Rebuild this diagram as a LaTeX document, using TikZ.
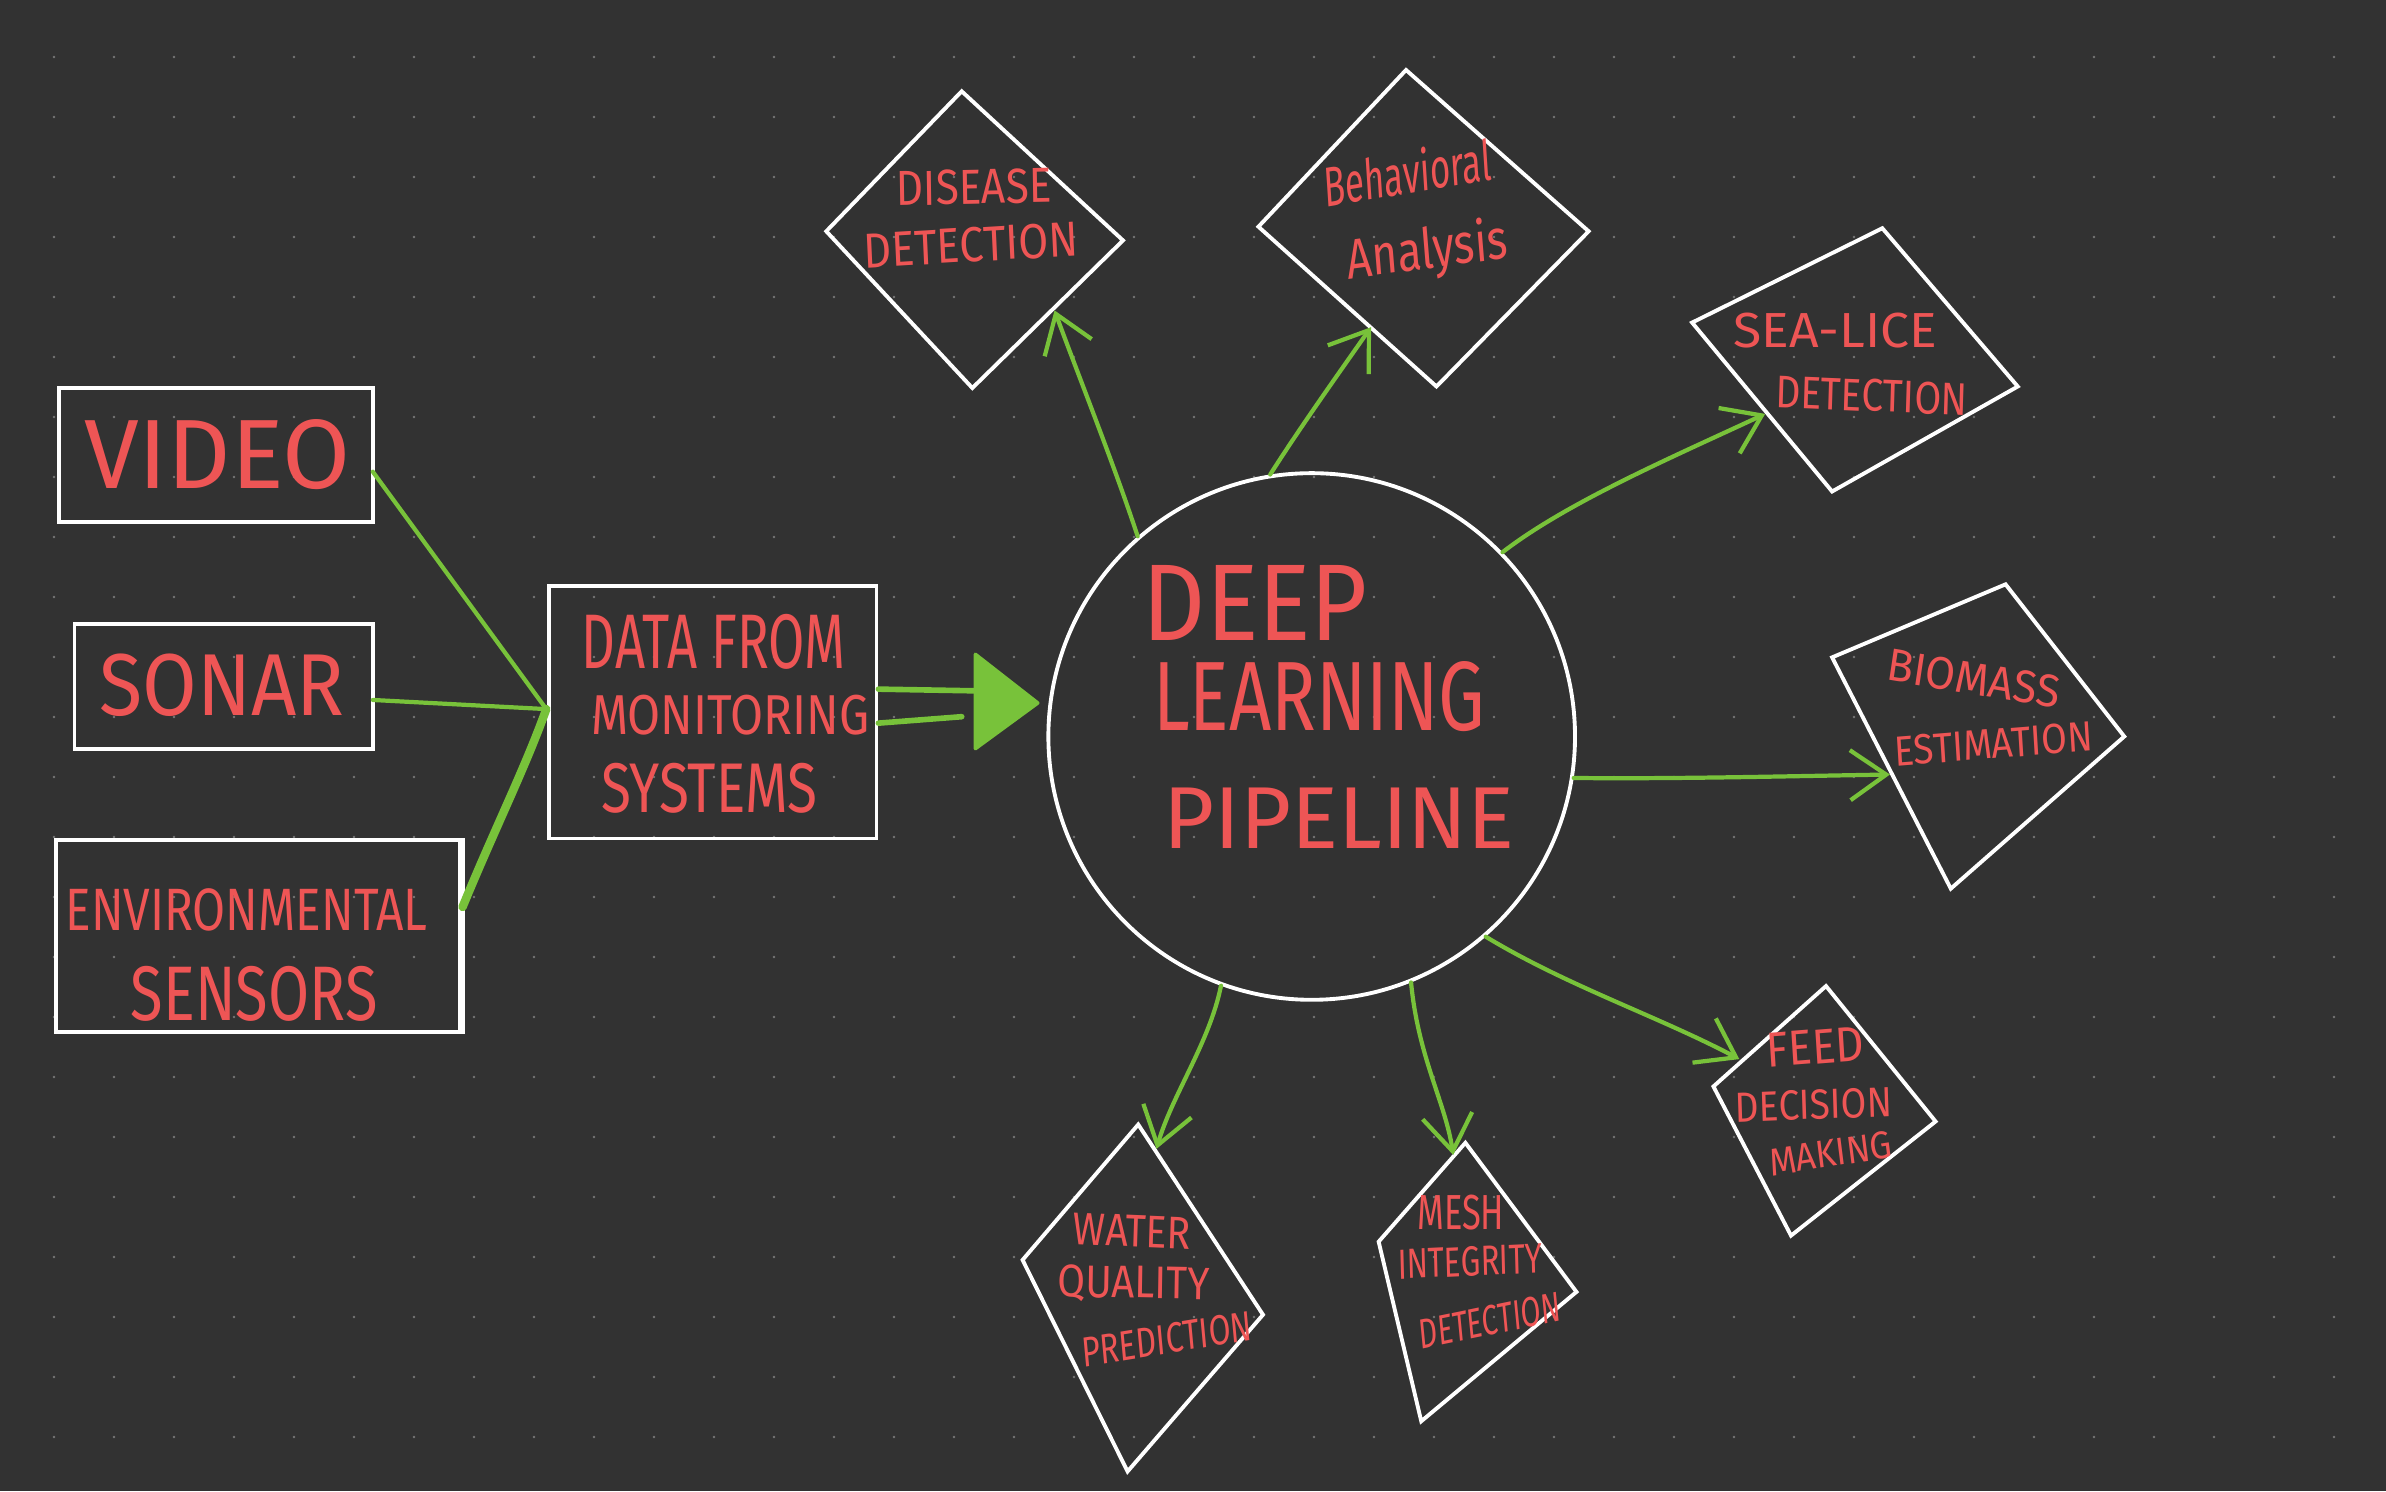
\documentclass[tikz,border=0pt]{standalone}
\usepackage{fontspec}
\setmainfont{Fira Sans}
\usetikzlibrary{arrows.meta,fit}
\definecolor{bg}{HTML}{323232}
\definecolor{dotc}{HTML}{767676}
\definecolor{hred}{HTML}{EE5555}
\definecolor{hgreen}{HTML}{78C23A}
\newcommand\fs[1]{\fontsize{#1}{#1}\selectfont}
\tikzset{
  box/.style={draw=white, line width=1.1pt, inner sep=0pt},
  dia/.style={draw=white, line width=1.1pt, line join=miter},
  gline/.style={draw=hgreen, line width=1.2pt, line cap=round, line join=round},
  garrow/.style={gline, -{Straight Barb[length=3.6mm,width=5mm]}},
  hw/.style={text=hred, inner sep=0pt, transform shape},
}
\begin{document}
\begin{tikzpicture}[x=0.015217cm, y=-0.015217cm]
% background and dot grid
\fill[bg] (0,0) rectangle (1568,980);
\useasboundingbox (0,0) rectangle (1568,980);
\foreach \i in {0,...,38}
  \foreach \j in {0,...,23}
    \fill[dotc] (35.49+39.43*\i, 37.46+39.43*\j) circle[radius=0.013cm];

% source boxes
\node[box, fit={(39,255) (245,343)}] (video) {};
\node[box, fit={(49,410) (245,492)}] (sonar) {};
\node[box, fit={(37,552) (302,678)}] (env) {};
\draw[white, line width=2.2pt] (env.north east) -- (env.south east);
\node[box, fit={(361,385) (576,551)}] (data) {};

\node[hw, font=\fs{28}] (tvideo) at (143,299) {VIDEO};
\node[hw, font=\fs{25}, xscale=0.9] (tsonar) at (146,450) {SONAR};
\node[hw, font=\fs{17}, xscale=0.8] (tenv1) at (162,598) {ENVIRONMENTAL};
\node[hw, font=\fs{22}, xscale=0.77] (tenv2) at (167,653) {SENSORS};
\node[hw, font=\fs{22}, xscale=0.68] (tdata1) at (469,422) {DATA FROM};
\node[hw, font=\fs{16}, xscale=0.85] (tdata2) at (480,470) {MONITORING};
\node[hw, font=\fs{20}, xscale=0.78] (tdata3) at (466,518) {SYSTEMS};

% junction connectors
\coordinate (vout) at (245,310);
\coordinate (sout) at (245,460);
\coordinate (eout) at (304,596);
\coordinate (junc) at (359,466);
\draw[gline] (vout) -- (junc);
\draw[gline] (sout) -- (junc);
\draw[gline, line width=2.4pt] (eout) .. controls (325,545) and (345,505) .. (junc);

% central circle
\node[circle, draw=white, line width=1.1pt, minimum size=5.265cm, inner sep=0pt] (dlp) at (862,484) {};
\node[hw, font=\fs{31}, xscale=0.9] (tdeep) at (825,396) {DEEP};
\node[hw, font=\fs{28}, xscale=0.75] (tlearn) at (867,458) {LEARNING};
\node[hw, font=\fs{25}] (tpipe) at (880,538) {PIPELINE};

% big arrow data -> circle
\coordinate (bigtip) at (682,462);
\draw[gline, line width=1.6pt] ([yshift=0.23cm]data.east) -- (641,454);
\draw[gline, line width=1.6pt] ([yshift=-0.11cm]data.east) -- (632,471);
\fill[hgreen, draw=hgreen, line width=1pt, line join=round] (bigtip) -- ++(-41,-32) -- ++(0,62) -- cycle;

% diamonds
\draw[dia] (632,60) -- (738,158) -- (639,255) -- (543,152) -- cycle;
\coordinate (dis) at (693,204);
\node[hw, font=\fs{14}, xscale=0.86, rotate=1] (tdis1) at (640,123) {DISEASE};
\node[hw, font=\fs{14}, xscale=0.88, rotate=3] (tdis2) at (638,161) {DETECTION};

\draw[dia] (924,46) -- (1044,152) -- (944,254) -- (827,149) -- cycle;
\coordinate (beh) at (901,215);
\node[hw, font=\fs{16}, xscale=0.62, rotate=6] (tbeh1) at (925,113) {Behavioral};
\node[hw, font=\fs{16}, xscale=0.78, rotate=6] (tbeh2) at (938,166) {Analysis};

\draw[dia] (1237,150) -- (1326,254) -- (1204,323) -- (1112,212) -- cycle;
\coordinate (sea) at (1160,272);
\node[hw, font=\fs{14}, xscale=1.05] (tsea1) at (1206,217) {SEA-LICE};
\node[hw, font=\fs{13}, xscale=0.85, rotate=-2] (tsea2) at (1230,260) {DETECTION};

\draw[dia] (1318,384) -- (1396,484) -- (1282,584) -- (1204,432) -- cycle;
\coordinate (bio) at (1242,509);
\node[hw, font=\fs{13}, xscale=0.95, rotate=-9] (tbio1) at (1297,446) {BIOMASS};
\node[hw, font=\fs{12}, xscale=0.88, rotate=4] (tbio2) at (1310,489) {ESTIMATION};

\draw[dia] (1200,648) -- (1272,737) -- (1177,812) -- (1126,714) -- cycle;
\coordinate (feed) at (1143,696);
\node[hw, font=\fs{14}, xscale=0.9, rotate=4] (tfeed1) at (1193,688) {FEED};
\node[hw, font=\fs{12}, xscale=0.88, rotate=2] (tfeed2) at (1192,726) {DECISION};
\node[hw, font=\fs{11}, xscale=0.9, rotate=8] (tfeed3) at (1203,758) {MAKING};

\draw[dia] (748,739) -- (830,864) -- (741,967) -- (672,828) -- cycle;
\coordinate (wat) at (760,755);
\node[hw, font=\fs{13}, xscale=0.86, rotate=-2] (twat1) at (744,809) {WATER};
\node[hw, font=\fs{13}, xscale=0.88, rotate=-1] (twat2) at (745,844) {QUALITY};
\node[hw, font=\fs{12}, xscale=0.75, rotate=7] (twat3) at (767,880) {PREDICTION};

\draw[dia] (963,751) -- (1036,849) -- (934,934) -- (906,816) -- cycle;
\coordinate (mesh) at (955,759);
\node[hw, font=\fs{14}, xscale=0.7] (tmesh1) at (960,797) {MESH};
\node[hw, font=\fs{12}, xscale=0.74, rotate=2] (tmesh2) at (966,829) {INTEGRITY};
\node[hw, font=\fs{12}, xscale=0.68, rotate=8] (tmesh3) at (979,868) {DETECTION};

% output arrows
\draw[garrow] (dlp.131) .. controls (732,305) and (708,245) .. (dis);
\draw[garrow] (dlp.99) .. controls (855,280) and (880,245) .. (beh);
\draw[garrow] (dlp.44) .. controls (1030,330) and (1100,300) .. (sea);
\draw[garrow] (dlp.-9) .. controls (1100,512) and (1180,510) .. (bio);
\draw[garrow] (dlp.-49) .. controls (1030,648) and (1090,668) .. (feed);
\draw[garrow] (dlp.-110) .. controls (795,685) and (770,720) .. (wat);
\draw[garrow] (dlp.-68) .. controls (932,695) and (950,725) .. (mesh);
\end{tikzpicture}
\end{document}
